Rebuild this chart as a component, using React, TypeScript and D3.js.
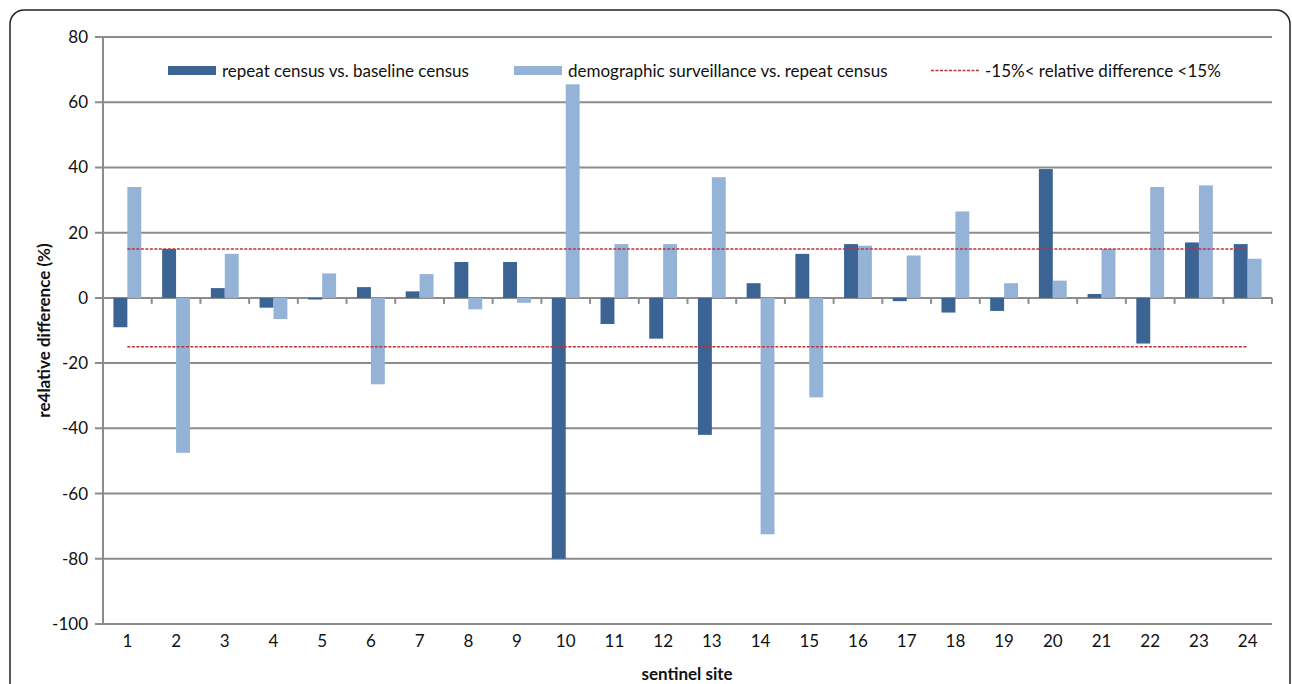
import React, { useEffect, useRef } from 'react';
import * as d3 from 'd3';

// sentinel sites (categories)
const sites = ['1', '2', '3', '4', '5', '6', '7', '8', '9', '10', '11', '12',
  '13', '14', '15', '16', '17', '18', '19', '20', '21', '22', '23', '24'];

// repeat census vs. baseline census
const repeatVsBaseline = [-9, 15, 3, -3, -0.5, 3.3, 2, 11, 11, -80, -8, -12.5,
  -42, 4.5, 13.5, 16.5, -1, -4.5, -4, 39.5, 1.2, -14, 17, 16.5];

// demographic surveillance vs. repeat census
const survVsRepeat = [34, -47.5, 13.5, -6.5, 7.5, -26.5, 7.3, -3.5, -1.5, 65.5, 16.5, 16.5,
  37, -72.5, -30.5, 16, 13, 26.5, 4.5, 5.3, 15, 34, 34.5, 12];

const yTicks = [80, 60, 40, 20, 0, -20, -40, -60, -80, -100];
const limits = [15, -15];

const seriesNames = ['repeat census vs. baseline census', 'demographic surveillance vs. repeat census'];
const limitName = '-15%< relative difference <15%';

const DARK = '#3b6494';
const LIGHT = '#95b3d7';
const RED = '#b5373a';
const GRID = '#8c8c8c';
const FONT = 'Lato, "Open Sans", sans-serif';

export default function App() {
  const svgRef = useRef<SVGSVGElement>(null);

  useEffect(() => {
    if (!svgRef.current) return;
    document.body.style.margin = '0';
    const svg = d3.select(svgRef.current);
    svg.selectAll('*').remove();

    const left = 103, right = 1272, top = 37, bottom = 624;

    const x = d3.scaleBand<string>().domain(sites).range([left, right]);
    const sub = d3.scaleBand<string>().domain(['a', 'b']).range([0, x.bandwidth()]).paddingOuter(0.75);
    const y = d3.scaleLinear().domain([-100, 80]).range([bottom, top]);

    // frame
    svg.append('rect')
      .attr('x', 10).attr('y', 10).attr('width', 1280).attr('height', 700)
      .attr('rx', 14).attr('fill', 'white').attr('stroke', '#222').attr('stroke-width', 1.5);

    // gridlines
    svg.append('g').selectAll('line').data(yTicks).enter().append('line')
      .attr('x1', left - 8).attr('x2', right)
      .attr('y1', d => y(d)).attr('y2', d => y(d))
      .attr('stroke', GRID).attr('stroke-width', 2);

    // y tick labels
    svg.append('g').selectAll('text').data(yTicks).enter().append('text')
      .attr('x', 88).attr('y', d => y(d)).attr('dy', '0.35em')
      .attr('text-anchor', 'end').attr('font-family', FONT).attr('font-size', 17).attr('fill', '#111')
      .text(d => d);

    // bars
    const series = [
      { key: 'a', values: repeatVsBaseline, color: DARK },
      { key: 'b', values: survVsRepeat, color: LIGHT },
    ];
    series.forEach(s => {
      svg.append('g').selectAll('rect').data(s.values).enter().append('rect')
        .attr('x', (d, i) => (x(sites[i]) as number) + (sub(s.key) as number))
        .attr('width', sub.bandwidth())
        .attr('y', d => y(Math.max(0, d)))
        .attr('height', d => Math.abs(y(d) - y(0)))
        .attr('fill', s.color);
    });

    // y axis line
    svg.append('line')
      .attr('x1', left).attr('x2', left).attr('y1', top).attr('y2', bottom)
      .attr('stroke', GRID).attr('stroke-width', 2);

    // x axis at zero with ticks between categories
    svg.append('g').selectAll('line').data(d3.range(sites.length + 1)).enter().append('line')
      .attr('x1', i => left + i * x.step()).attr('x2', i => left + i * x.step())
      .attr('y1', y(0)).attr('y2', y(0) + 6)
      .attr('stroke', GRID).attr('stroke-width', 2);

    // limit lines
    const line = d3.line<string>().x(d => (x(d) as number) + x.bandwidth() / 2);
    limits.forEach(v => {
      svg.append('path')
        .datum(sites)
        .attr('d', line.y(() => y(v)))
        .attr('fill', 'none').attr('stroke', RED).attr('stroke-width', 1.6)
        .attr('stroke-dasharray', '3,1.5');
    });

    // x tick labels
    svg.append('g').selectAll('text').data(sites).enter().append('text')
      .attr('x', d => (x(d) as number) + x.bandwidth() / 2).attr('y', 647)
      .attr('text-anchor', 'middle').attr('font-family', FONT).attr('font-size', 17).attr('fill', '#111')
      .text(d => d);

    // axis titles
    svg.append('text')
      .attr('x', 687).attr('y', 680).attr('text-anchor', 'middle')
      .attr('font-family', FONT).attr('font-size', 17).attr('font-weight', 'bold').attr('fill', '#111')
      .text('sentinel site');
    svg.append('text')
      .attr('transform', `translate(50,${(top + bottom) / 2}) rotate(-90)`)
      .attr('text-anchor', 'middle')
      .attr('font-family', FONT).attr('font-size', 17).attr('font-weight', 'bold').attr('fill', '#111')
      .text('re4lative difference (%)');

    // legend
    const lg = svg.append('g').attr('font-family', FONT).attr('font-size', 17).attr('fill', '#111');
    const items = [
      { x: 168, name: seriesNames[0], color: DARK, type: 'rect' },
      { x: 514, name: seriesNames[1], color: LIGHT, type: 'rect' },
      { x: 931, name: limitName, color: RED, type: 'line' },
    ];
    items.forEach(it => {
      if (it.type === 'rect') {
        lg.append('rect').attr('x', it.x).attr('y', 66).attr('width', 48).attr('height', 9).attr('fill', it.color);
      } else {
        lg.append('line').attr('x1', it.x).attr('x2', it.x + 48).attr('y1', 70.5).attr('y2', 70.5)
          .attr('stroke', it.color).attr('stroke-width', 1.6).attr('stroke-dasharray', '3,1.5');
      }
      lg.append('text').attr('x', it.x + 54).attr('y', 71).attr('dy', '0.35em').text(it.name);
    });
  }, []);

  return <svg ref={svgRef} width={1292} height={684} style={{ display: 'block' }} />;
}
